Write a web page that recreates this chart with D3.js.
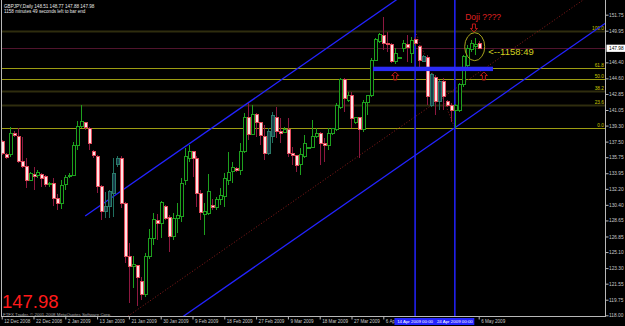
<!DOCTYPE html>
<html>
<head>
<meta charset="utf-8">
<script src="https://cdn.jsdelivr.net/npm/d3@7/dist/d3.min.js"></script>
<style>
  body { margin: 0; background: #000; }
  svg { display: block; }
  text { font-family: "Liberation Sans", Arial, sans-serif; }
</style>
</head>
<body>
<div id="chart"></div>
<script>
/* GBPJPY daily candles, 12 Dec 2008 - 6 May 2009 */

const opens = [137.49, 136.11, 136.00, 138.41, 138.05, 135.25, 134.68, 133.19, 133.86, 133.64,
    133.86, 133.53, 132.72, 132.82, 131.14, 130.50, 132.63, 133.58, 133.70, 137.12,
    139.18, 139.62, 139.00, 136.37, 135.83, 132.44, 129.63, 130.19, 131.70, 134.88,
    135.63, 130.58, 124.58, 123.46, 123.54, 121.77, 120.28, 124.58, 126.65, 128.62,
    128.33, 130.19, 129.00, 126.83, 128.89, 129.07, 133.19, 135.63, 136.37, 135.63,
    131.62, 129.37, 129.45, 130.38, 130.13, 131.03, 131.32, 133.19, 134.12, 134.43,
    134.31, 136.37, 140.19, 138.32, 140.57, 139.67, 138.13, 136.19, 138.05, 140.19,
    138.61, 138.50, 138.81, 136.19, 135.92, 134.88, 135.81, 136.78, 136.82, 138.05,
    138.43, 137.31, 137.04, 138.36, 138.81, 141.31, 144.53, 142.17, 142.73, 139.62,
    140.19, 138.81, 141.92, 142.73, 146.66, 148.72, 149.47, 148.54, 148.35, 146.47,
    146.94, 147.98, 148.35, 147.42, 149.02, 148.16, 146.47, 146.97, 141.61, 144.70,
    141.98, 144.23, 141.98, 141.61, 141.05, 141.05, 143.86, 146.00, 147.79, 148.20,
    148.51]
const highs = [137.68, 136.22, 139.18, 138.64, 139.00, 138.05, 135.66, 134.06, 134.68, 134.31,
    134.01, 133.75, 133.00, 133.38, 131.62, 133.19, 133.70, 133.98, 137.49, 139.82,
    141.61, 139.74, 139.18, 136.56, 136.00, 132.63, 131.88, 132.07, 135.66, 135.89,
    135.89, 130.72, 126.09, 124.66, 123.65, 122.30, 124.96, 127.69, 129.45, 129.37,
    130.87, 130.38, 129.26, 129.45, 130.58, 133.38, 136.75, 137.12, 136.45, 135.89,
    132.07, 130.58, 133.86, 131.06, 131.32, 132.26, 134.01, 136.34, 135.25, 134.68,
    137.31, 140.68, 141.80, 141.61, 140.68, 139.74, 139.37, 139.00, 140.86, 141.42,
    140.12, 139.18, 140.12, 136.93, 136.00, 136.75, 138.24, 136.90, 139.93, 139.00,
    138.55, 137.87, 139.00, 139.00, 141.80, 144.61, 144.61, 143.10, 143.04, 140.30,
    140.30, 142.17, 142.73, 146.85, 149.10, 149.66, 151.53, 149.84, 148.54, 147.98,
    147.00, 148.91, 149.47, 149.28, 149.25, 148.35, 147.23, 147.23, 145.17, 144.98,
    144.42, 144.61, 142.17, 141.80, 141.72, 144.05, 147.23, 148.30, 148.91, 149.10,
    148.77]
const lows = [136.00, 135.55, 135.81, 138.02, 135.10, 134.51, 132.26, 133.08, 132.07, 133.38,
    132.44, 132.44, 132.44, 130.27, 129.82, 129.94, 132.07, 133.42, 133.64, 136.56,
    139.00, 138.81, 136.56, 135.63, 131.70, 128.70, 128.89, 128.89, 129.07, 134.68,
    130.01, 123.87, 119.35, 121.07, 119.05, 119.72, 120.06, 124.32, 125.89, 126.46,
    126.65, 128.70, 125.14, 126.46, 127.21, 128.51, 132.63, 135.25, 133.56, 130.19,
    128.70, 127.02, 129.26, 129.82, 129.82, 130.38, 130.19, 132.63, 132.82, 134.12,
    133.75, 136.19, 137.68, 138.24, 138.05, 137.12, 135.44, 136.00, 137.31, 137.87,
    137.31, 138.43, 135.81, 134.88, 134.12, 133.75, 135.63, 136.73, 136.75, 137.87,
    134.88, 135.25, 136.56, 138.24, 138.69, 141.16, 140.86, 141.92, 139.00, 139.48,
    135.63, 138.61, 140.49, 142.54, 146.55, 148.54, 147.79, 147.60, 146.29, 146.18,
    146.94, 147.60, 146.47, 146.29, 148.24, 145.73, 146.44, 141.61, 141.39, 140.49,
    141.05, 141.05, 141.42, 139.74, 139.06, 140.86, 143.67, 145.80, 147.60, 147.23,
    147.88]
const closes = [136.19, 135.77, 138.43, 138.17, 135.27, 134.68, 133.19, 133.94, 133.56, 134.01,
    133.38, 132.63, 132.77, 131.14, 130.50, 132.57, 133.49, 133.67, 137.12, 139.18,
    139.74, 139.11, 137.31, 135.89, 132.44, 129.63, 130.19, 131.88, 133.94, 135.63,
    130.58, 124.58, 123.46, 123.65, 122.30, 120.28, 124.58, 126.65, 128.70, 128.33,
    130.64, 128.89, 126.83, 128.89, 129.26, 132.82, 135.81, 136.37, 135.63, 131.70,
    129.52, 129.63, 131.88, 130.13, 131.03, 131.40, 133.38, 134.01, 134.62, 134.31,
    136.37, 140.23, 138.32, 140.57, 139.62, 138.17, 136.19, 138.61, 140.38, 138.61,
    138.43, 138.81, 136.19, 135.92, 134.80, 136.00, 137.31, 136.84, 138.05, 138.43,
    137.31, 137.04, 138.43, 138.92, 141.53, 144.53, 142.29, 142.73, 140.12, 140.19,
    138.81, 141.92, 142.66, 146.66, 148.91, 149.55, 148.54, 148.35, 146.47, 147.34,
    147.00, 148.57, 148.12, 148.83, 148.57, 146.66, 147.03, 142.54, 144.98, 141.98,
    144.23, 142.54, 141.61, 141.05, 141.50, 143.86, 147.03, 147.90, 148.54, 148.45,
    147.98]
// bars that show up in a dull teal colour in the screenshot
const tealBars = [26, 27, 28, 29, 67, 68, 106, 108, 110]

// 148.20 sits under the bid box in the screenshot, so it is left out
const priceTicks = [151.75, 149.95, 146.40, 144.60, 142.85, 141.05, 139.30, 137.50, 135.75,
    133.95, 132.20, 130.40, 128.65, 126.85, 125.10, 123.30, 121.55, 119.75, 118.00]
const dateTickIndex = [0, 8, 16, 24, 32, 40, 48, 56, 64, 72, 80, 88, 96, 120]
const dateTickLabels = ['12 Dec 2008', '22 Dec 2008', '2 Jan 2009', '13 Jan 2009', '21 Jan 2009',
    '30 Jan 2009', '9 Feb 2009', '18 Feb 2009', '27 Feb 2009', '9 Mar 2009', '18 Mar 2009',
    '27 Mar 2009', '6 Apr', '6 May 2009']

// fibonacci retracement
const fibLevels = [0, 23.6, 38.2, 50.0, 61.8, 100.0]
const fibLow = 139.06, fibHigh = 149.90
const fibLowBar = 114, fibHighBar = 104
const fibMajor = [0, 50.0, 61.8]

// channel (price per bar slope) and the two vertical lines
const channelSlope = 0.31
const upperChannel = [21, 129.15]
const lowerChannel = [114, 139.06]
const midDotted = [44.85, 121.96]
const vLines = [104, 114]
const vLineLabels = ['14 Apr 2009 00:00', '24 Apr 2009 00:00']

const lastPrice = 147.98
const header = ['GBPJPY,Daily  148.51 148.77 147.88 147.98', '1158 minutes 49 seconds left to bar end']

/*------------------------------------------------------------------------*/

const width = 625, height = 326
const plot = { left: 1.5, right: 605.5, top: 0, bottom: 316.5 }

const x = d3.scaleLinear().domain([0, 120]).range([1.7, 478.7])
const y = d3.scaleLinear().domain([118.00, 151.75]).range([315.3, 14.7])

let svg = d3.select('#chart').append('svg')
    .attr('width', width)
    .attr('height', height)
    .style('background', '#000')

svg.append('defs').append('clipPath').attr('id', 'clip')
    .append('rect')
    .attr('x', plot.left + 0.5).attr('y', plot.top)
    .attr('width', plot.right - plot.left - 1).attr('height', plot.bottom - plot.top)

let g = svg.append('g').attr('clip-path', 'url(#clip)')

// fib levels, full width
let fibPrice = lv => fibLow + (fibHigh - fibLow) * lv / 100
fibLevels.forEach(lv => {
    let major = fibMajor.includes(lv)
    let ly = Math.round(y(fibPrice(lv))) + 0.5
    g.append('line')
        .attr('x1', plot.left).attr('x2', plot.right)
        .attr('y1', ly).attr('y2', ly)
        .attr('stroke', major ? '#9c9c12' : '#5e5a1c')
        .attr('stroke-width', major ? 1 : 2)
        .attr('stroke-dasharray', major ? null : '1,1')
    g.append('text')
        .attr('x', plot.right - 1.5).attr('y', ly - 1.5)
        .attr('text-anchor', 'end')
        .attr('font-size', 4.8)
        .attr('fill', '#c8c800')
        .text(lv.toFixed(1))
})

// bid line
g.append('line')
    .attr('x1', plot.left).attr('x2', plot.right)
    .attr('y1', Math.round(y(lastPrice)) + 0.5).attr('y2', Math.round(y(lastPrice)) + 0.5)
    .attr('stroke', '#a0285a').attr('stroke-dasharray', '1,1')

// channel lines
let chan = (anchor, from, to) => [[from, anchor[1] + (from - anchor[0]) * channelSlope],
                                  [to, anchor[1] + (to - anchor[0]) * channelSlope]]
let lineGen = d3.line().x(d => x(d[0])).y(d => y(d[1]))

g.append('path').attr('d', lineGen(chan(upperChannel, 21, 170)))
    .attr('stroke', '#2323ff').attr('stroke-width', 1.3).attr('fill', 'none')
g.append('path').attr('d', lineGen(chan(lowerChannel, 30, 170)))
    .attr('stroke', '#2323ff').attr('stroke-width', 1.3).attr('fill', 'none')
g.append('path').attr('d', lineGen(chan(midDotted, 20, 170)))
    .attr('stroke', '#8c1c1c').attr('stroke-width', 1).attr('stroke-dasharray', '1,2').attr('fill', 'none')

// fib diagonal
g.append('path').attr('d', lineGen([[fibHighBar, fibHigh], [fibLowBar, fibLow]]))
    .attr('stroke', '#8c1c1c').attr('stroke-dasharray', '1,2').attr('fill', 'none')

// vertical lines
vLines.forEach(i => {
    g.append('line')
        .attr('x1', x(i)).attr('x2', x(i))
        .attr('y1', plot.top).attr('y2', plot.bottom)
        .attr('stroke', '#2323ff').attr('stroke-width', 1.5)
})

// candles
let bars = g.append('g').attr('shape-rendering', 'crispEdges')
for (let i = 0; i < opens.length; i++) {
    let up = closes[i] >= opens[i]
    let teal = tealBars.includes(i)
    let cx = Math.round(x(i)) + 0.5
    let wick = up ? (teal ? '#1f6f5f' : '#1ea01e') : '#8e1840'
    bars.append('line')
        .attr('x1', cx).attr('x2', cx)
        .attr('y1', y(highs[i])).attr('y2', y(lows[i]))
        .attr('stroke', wick)
    let top = y(Math.max(opens[i], closes[i])), bot = y(Math.min(opens[i], closes[i]))
    bars.append('rect')
        .attr('x', cx - 1.5).attr('width', 3)
        .attr('y', top).attr('height', Math.max(1, bot - top))
        .attr('fill', up ? (teal ? '#173d4a' : '#000') : '#ffe2e4')
        .attr('stroke', up ? (teal ? '#2a7a68' : '#1ea01e') : '#e04a5a')
        .attr('stroke-width', 1)
}

// blue horizontal marker
g.append('rect')
    .attr('x', x(93.4)).attr('width', x(123.6) - x(93.4))
    .attr('y', y(145.91)).attr('height', y(145.42) - y(145.91))
    .attr('fill', '#2b2bf5')

// annotations
let upArrow = (i, p) => {
    let ax = x(i), ay = y(p)
    g.append('path')
        .attr('d', `M${ax},${ay} l3.5,3.5 h-2 v4.5 h-3 v-4.5 h-2 z`)
        .attr('fill', 'none').attr('stroke', '#c01818')
}
upArrow(99, 145.32)
upArrow(121.3, 145.32)

let dx = x(118.8), dy = y(149.81)
g.append('path')
    .attr('d', `M${dx},${dy} l3.5,-3.5 h-2 v-4.5 h-3 v4.5 h-2 z`)
    .attr('fill', 'none').attr('stroke', '#c01818')

g.append('ellipse')
    .attr('cx', x(119)).attr('cy', y(148.16))
    .attr('rx', 10).attr('ry', 14)
    .attr('fill', 'none').attr('stroke', '#a8a41c')

g.append('text').attr('x', x(116.6)).attr('y', y(151.15))
    .attr('font-size', 8.5).attr('fill', '#e02020').text('Doji ????')
g.append('text').attr('x', x(122.4)).attr('y', y(147.17))
    .attr('font-size', 9.5).attr('fill', '#d0d020').text('<--1158:49')

// border
svg.append('path')
    .attr('d', `M${plot.left},${plot.top} V${plot.bottom} H${plot.right} V${plot.top}`)
    .attr('fill', 'none').attr('stroke', '#b8b8b8').attr('shape-rendering', 'crispEdges')

// right price axis
let yAxis = svg.append('g')
    .attr('transform', `translate(${plot.right},0)`)
    .call(d3.axisRight(y).tickValues(priceTicks).tickSize(3).tickFormat(d3.format('.2f')))
yAxis.select('.domain').remove()
yAxis.selectAll('line').attr('stroke', '#b8b8b8')
yAxis.selectAll('text').attr('fill', '#c8c8c8').attr('font-size', 4.8).attr('x', 3.5)
    .attr('font-family', '"Liberation Sans", Arial, sans-serif')

svg.append('rect').attr('x', plot.right + 1).attr('y', y(lastPrice) - 3.6)
    .attr('width', 18.5).attr('height', 7.2).attr('fill', '#fff')
svg.append('text').attr('x', plot.right + 3.5).attr('y', y(lastPrice) + 1.8)
    .attr('font-size', 4.8).attr('fill', '#000').text(lastPrice.toFixed(2))

// bottom date axis
let xAxis = svg.append('g')
    .attr('transform', `translate(0,${plot.bottom})`)
    .call(d3.axisBottom(x).tickValues(dateTickIndex).tickSize(3)
        .tickFormat((d, k) => dateTickLabels[k]))
xAxis.select('.domain').remove()
xAxis.selectAll('line').attr('stroke', '#b8b8b8')
xAxis.selectAll('text').attr('fill', '#c8c8c8').attr('font-size', 4.6)
    .attr('text-anchor', 'start').attr('dx', 2).attr('y', 3)
    .attr('font-family', '"Liberation Sans", Arial, sans-serif')

// labels of the vertical lines on the time axis
svg.append('rect').attr('x', x(98.8)).attr('y', plot.bottom + 1.5)
    .attr('width', x(118.9) - x(98.8)).attr('height', 7).attr('fill', '#2424ff')
vLines.forEach((i, k) => {
    svg.append('text').attr('x', x(i)).attr('y', plot.bottom + 6.8)
        .attr('text-anchor', 'middle')
        .attr('font-size', 4.4).attr('fill', '#fff').text(vLineLabels[k])
})

// header + watermark
header.forEach((t, k) => {
    svg.append('text').attr('x', 4).attr('y', 8 + k * 5.2)
        .attr('font-size', 4.6).attr('fill', '#e8e8e8').text(t)
})
svg.append('text').attr('x', 2).attr('y', 308)
    .attr('font-size', 18.5).attr('fill', '#ff1a1a').text(lastPrice.toFixed(2))
svg.append('text').attr('x', 3).attr('y', 315.6)
    .attr('font-size', 4.4).attr('fill', '#a8a8a8')
    .text('FTFX Trader, © 2001-2008 MetaQuotes Software Corp.')
</script>
</body>
</html>
